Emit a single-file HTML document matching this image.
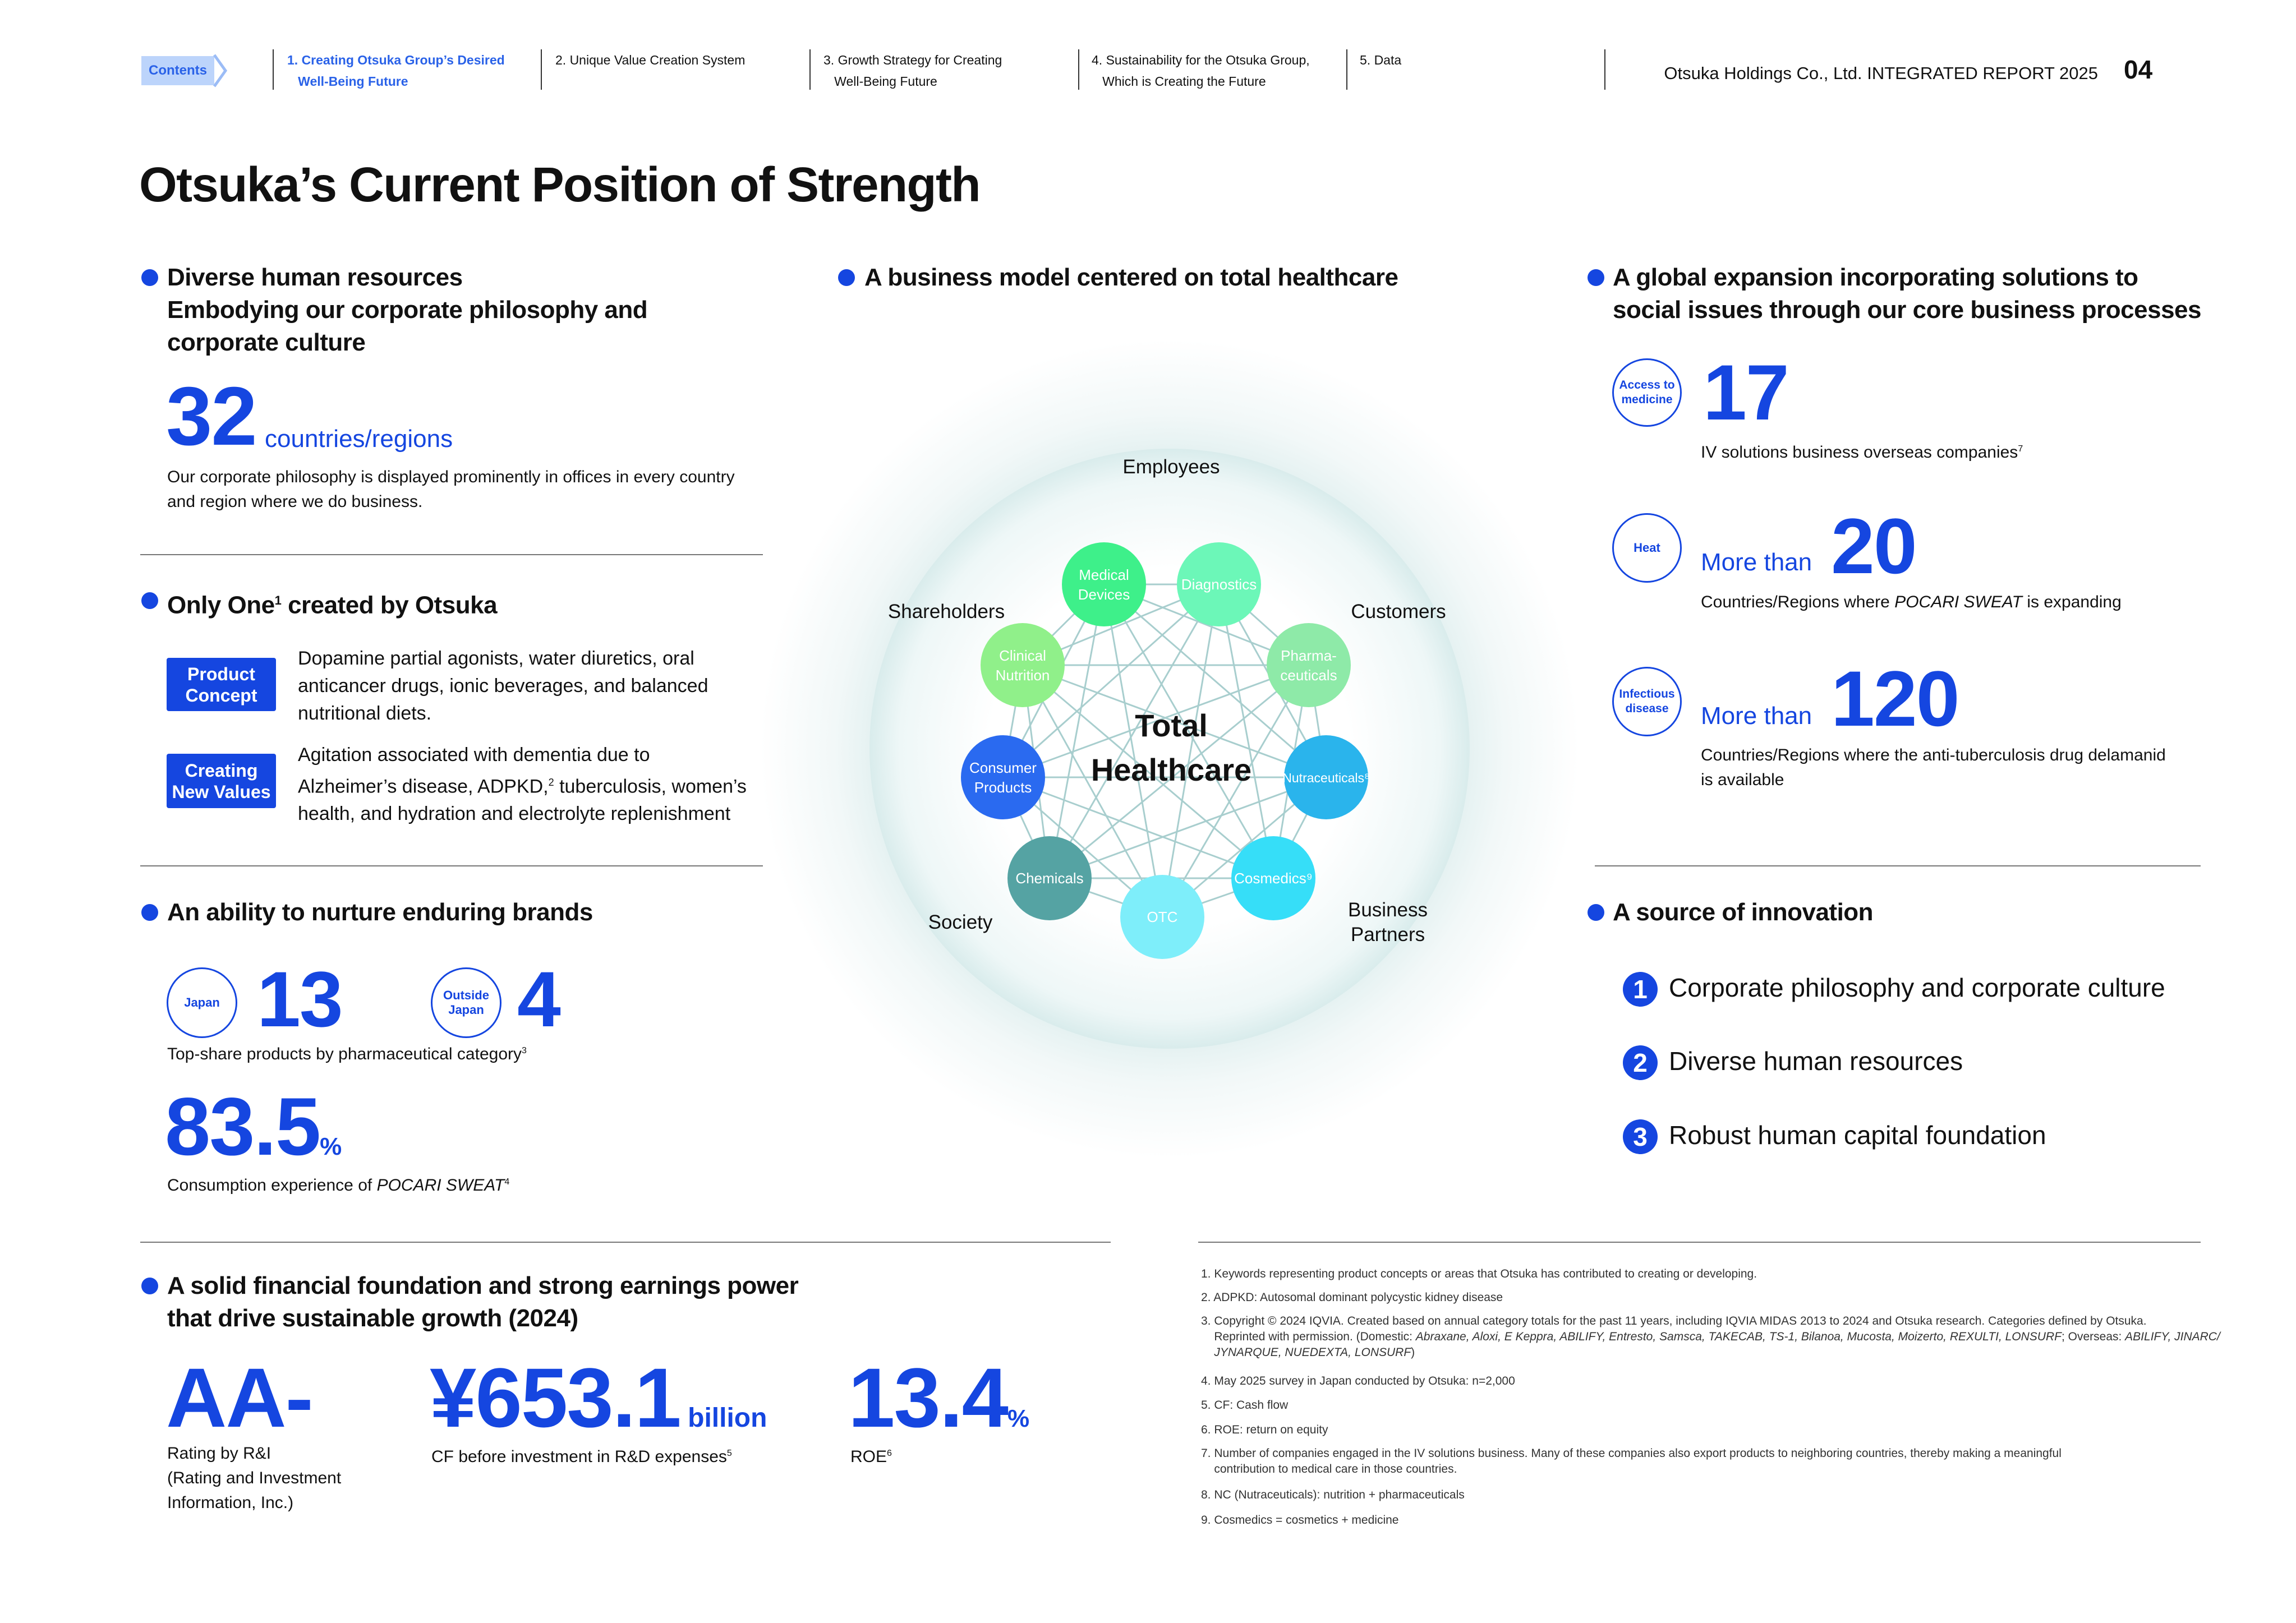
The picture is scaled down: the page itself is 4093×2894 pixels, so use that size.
<!DOCTYPE html>
<html><head><meta charset="utf-8"><style>
body{margin:0;background:#fff}
#p{position:relative;width:4093px;height:2894px;overflow:hidden;font-family:"Liberation Sans",sans-serif;color:#111}
.a{position:absolute;white-space:nowrap}
.h{font-weight:bold;font-size:44px;letter-spacing:-0.5px;line-height:58px}
.b{font-size:30px;line-height:44px}
.bl{color:#1546e0}
.big{font-weight:bold;color:#1546e0;letter-spacing:-2px}
.dot{position:absolute;width:30px;height:30px;border-radius:50%;background:#1546e0}
.rule{position:absolute;height:2px;background:#777}
.nav{position:absolute;font-size:23px;line-height:38px;top:88px}
.sep{position:absolute;top:88px;width:2px;height:72px;background:#333}
.circ{position:absolute;border:3px solid #1546e0;border-radius:50%;color:#1546e0;font-weight:bold;font-size:22px;display:flex;align-items:center;justify-content:center;text-align:center;line-height:26px;box-sizing:border-box}
.box{position:absolute;background:#1546e0;color:#fff;font-weight:bold;font-size:32px;line-height:38px;text-align:center;display:flex;align-items:center;justify-content:center;border-radius:4px}
.num{position:absolute;width:62px;height:62px;border-radius:50%;background:#1546e0;color:#fff;font-weight:bold;font-size:46px;text-align:center;line-height:62px}
.fn{position:absolute;font-size:21px;line-height:28px;color:#333;white-space:nowrap}
</style></head><body><div id="p">

<div class="a" style="left:252px;top:100px;width:130px;height:52px;background:#bcd4fb;color:#2a62e8;font-weight:bold;font-size:24px;line-height:52px;text-align:center">Contents</div>
<svg class="a" style="left:378px;top:96px" width="30" height="60"><polyline points="4,2 24,30 4,58" fill="none" stroke="#9bbcf6" stroke-width="5"/></svg>
<div class="sep" style="left:486px"></div><div class="nav" style="left:512px;color:#2a62e8;font-weight:bold">1. Creating Otsuka Group’s Desired<br>&nbsp;&nbsp;&nbsp;Well-Being Future</div>
<div class="sep" style="left:964px"></div><div class="nav" style="left:990px">2. Unique Value Creation System</div>
<div class="sep" style="left:1443px"></div><div class="nav" style="left:1468px">3. Growth Strategy for Creating<br>&nbsp;&nbsp;&nbsp;Well-Being Future</div>
<div class="sep" style="left:1922px"></div><div class="nav" style="left:1946px">4. Sustainability for the Otsuka Group,<br>&nbsp;&nbsp;&nbsp;Which is Creating the Future</div>
<div class="sep" style="left:2400px"></div><div class="nav" style="left:2424px">5. Data</div>
<div class="sep" style="left:2860px"></div>
<div class="a" style="right:353px;top:110px;font-size:31px;line-height:42px">Otsuka Holdings Co., Ltd. INTEGRATED REPORT 2025</div>
<div class="a" style="left:3786px;top:96px;font-size:46px;font-weight:bold;line-height:56px">04</div>

<div class="a" style="left:248px;top:280px;font-size:87px;font-weight:bold;letter-spacing:-1.6px;line-height:100px">Otsuka’s Current Position of Strength</div>

<!-- left column -->
<div class="dot" style="left:252px;top:480px"></div>
<div class="a h" style="left:298px;top:466px">Diverse human resources<br>Embodying our corporate philosophy and<br>corporate culture</div>
<div class="a big" style="left:296px;top:668px;font-size:148px;line-height:150px">32</div>
<div class="a bl" style="left:472px;top:758px;font-size:44px;line-height:50px">countries/regions</div>
<div class="a b" style="left:298px;top:829px">Our corporate philosophy is displayed prominently in offices in every country<br>and region where we do business.</div>
<div class="rule" style="left:250px;top:988px;width:1110px"></div>

<div class="dot" style="left:252px;top:1056px"></div>
<div class="a h" style="left:298px;top:1042px">Only One<sup style="font-size:22px">1</sup> created by Otsuka</div>
<div class="box" style="left:297px;top:1173px;width:195px;height:95px">Product<br>Concept</div>
<div class="a" style="left:531px;top:1150px;font-size:34px;line-height:49px">Dopamine partial agonists, water diuretics, oral<br>anticancer drugs, ionic beverages, and balanced<br>nutritional diets.</div>
<div class="box" style="left:297px;top:1344px;width:195px;height:97px">Creating<br>New Values</div>
<div class="a" style="left:531px;top:1322px;font-size:34px;line-height:49px">Agitation associated with dementia due to<br>Alzheimer’s disease, ADPKD,<sup style="font-size:18px">2</sup> tuberculosis, women’s<br>health, and hydration and electrolyte replenishment</div>
<div class="rule" style="left:250px;top:1543px;width:1110px"></div>

<div class="dot" style="left:252px;top:1612px"></div>
<div class="a h" style="left:298px;top:1598px">An ability to nurture enduring brands</div>
<div class="circ" style="left:297px;top:1725px;width:126px;height:126px">Japan</div>
<div class="a big" style="left:458px;top:1710px;font-size:140px;line-height:144px">13</div>
<div class="circ" style="left:768px;top:1725px;width:126px;height:126px">Outside<br>Japan</div>
<div class="a big" style="left:922px;top:1710px;font-size:140px;line-height:144px">4</div>
<div class="a b" style="left:298px;top:1852px">Top-share products by pharmaceutical category<sup style="font-size:16px">3</sup></div>
<div class="a big" style="left:294px;top:1934px;font-size:146px;line-height:150px">83.5<span style="font-size:44px;letter-spacing:0">%</span></div>
<div class="a b" style="left:298px;top:2086px">Consumption experience of <i>POCARI SWEAT</i><sup style="font-size:16px">4</sup></div>
<div class="rule" style="left:250px;top:2214px;width:1730px"></div>

<div class="dot" style="left:252px;top:2278px"></div>
<div class="a h" style="left:298px;top:2264px">A solid financial foundation and strong earnings power<br>that drive sustainable growth (2024)</div>
<div class="a big" style="left:296px;top:2412px;font-size:150px;line-height:160px">AA-</div>
<div class="a big" style="left:766px;top:2412px;font-size:150px;line-height:160px">¥653.1<span style="font-size:48px;letter-spacing:0"> billion</span></div>
<div class="a big" style="left:1512px;top:2412px;font-size:150px;line-height:160px">13.4<span style="font-size:44px;letter-spacing:0">%</span></div>
<div class="a b" style="left:298px;top:2570px">Rating by R&amp;I<br>(Rating and Investment<br>Information, Inc.)</div>
<div class="a b" style="left:769px;top:2570px">CF before investment in R&amp;D expenses<sup style="font-size:16px">5</sup></div>
<div class="a b" style="left:1516px;top:2570px">ROE<sup style="font-size:16px">6</sup></div>

<!-- middle -->
<div class="dot" style="left:1494px;top:480px"></div>
<div class="a h" style="left:1541px;top:466px">A business model centered on total healthcare</div>
<svg class="a" style="left:-10px;top:0" width="4093" height="2894">
<defs>
<radialGradient id="og" cx="2095" cy="1335" r="730" gradientUnits="userSpaceOnUse">
<stop offset="0.72" stop-color="#e4f1f1"/><stop offset="0.82" stop-color="#f2f8f8"/><stop offset="1" stop-color="#fff"/></radialGradient>
<radialGradient id="ig" cx="2095" cy="1335" r="535" gradientUnits="userSpaceOnUse">
<stop offset="0.6" stop-color="#fff"/><stop offset="0.9" stop-color="#eef7f7"/><stop offset="1" stop-color="#d9ecec"/></radialGradient>
</defs>
<circle cx="2095" cy="1335" r="730" fill="url(#og)"/>
<circle cx="2095" cy="1335" r="535" fill="url(#ig)"/>
<g id="lines" stroke="#a8cece" stroke-width="3"></g>
<g font-family="Liberation Sans" font-size="26" fill="#fff" text-anchor="middle">
<circle cx="1978" cy="1042" r="75" fill="#3ef08a"/><text x="1978" y="1034">Medical</text><text x="1978" y="1069">Devices</text>
<circle cx="2183" cy="1042" r="75" fill="#6cf7b8"/><text x="2183" y="1051">Diagnostics</text>
<circle cx="2343" cy="1186" r="75" fill="#8eeaa8"/><text x="2343" y="1178">Pharma-</text><text x="2343" y="1213">ceuticals</text>
<circle cx="2374" cy="1386" r="75" fill="#2ab4ec"/><text x="2374" y="1395" font-size="23">Nutraceuticals⁸</text>
<circle cx="2280" cy="1566" r="75" fill="#36def8"/><text x="2280" y="1575">Cosmedics⁹</text>
<circle cx="2082" cy="1635" r="75" fill="#7eeefa"/><text x="2082" y="1644">OTC</text>
<circle cx="1881" cy="1566" r="75" fill="#55a3a3"/><text x="1881" y="1575">Chemicals</text>
<circle cx="1798" cy="1386" r="75" fill="#2a6af0"/><text x="1798" y="1378">Consumer</text><text x="1798" y="1413">Products</text>
<circle cx="1833" cy="1186" r="75" fill="#90f08a"/><text x="1833" y="1178">Clinical</text><text x="1833" y="1213">Nutrition</text>
</g>
<g font-family="Liberation Sans" font-size="35" fill="#111" text-anchor="middle">
<text x="2098" y="844">Employees</text><text x="1697" y="1102">Shareholders</text><text x="2503" y="1102">Customers</text>
<text x="1722" y="1656">Society</text><text x="2484" y="1634">Business</text><text x="2484" y="1678">Partners</text>
<text x="2098" y="1313" font-size="56" font-weight="bold">Total</text><text x="2098" y="1392" font-size="56" font-weight="bold">Healthcare</text>
</g>
</svg>

<!-- right -->
<div class="dot" style="left:2830px;top:480px"></div>
<div class="a h" style="left:2875px;top:466px">A global expansion incorporating solutions to<br>social issues through our core business processes</div>
<div class="circ" style="left:2874px;top:639px;width:124px;height:122px;font-size:21px">Access to<br>medicine</div>
<div class="a big" style="left:3036px;top:628px;font-size:140px;line-height:144px">17</div>
<div class="a b" style="left:3032px;top:779px">IV solutions business overseas companies<sup style="font-size:16px">7</sup></div>
<div class="circ" style="left:2874px;top:915px;width:124px;height:124px">Heat</div>
<div class="a bl" style="left:3032px;top:978px;font-size:44px;line-height:50px">More than</div>
<div class="a big" style="left:3264px;top:902px;font-size:140px;line-height:144px">20</div>
<div class="a b" style="left:3032px;top:1052px">Countries/Regions where <i>POCARI SWEAT</i> is expanding</div>
<div class="circ" style="left:2874px;top:1189px;width:124px;height:124px;font-size:21px">Infectious<br>disease</div>
<div class="a bl" style="left:3032px;top:1252px;font-size:44px;line-height:50px">More than</div>
<div class="a big" style="left:3264px;top:1174px;font-size:140px;line-height:144px">120</div>
<div class="a b" style="left:3032px;top:1325px">Countries/Regions where the anti-tuberculosis drug delamanid<br>is available</div>
<div class="rule" style="left:2843px;top:1543px;width:1080px"></div>

<div class="dot" style="left:2830px;top:1612px"></div>
<div class="a h" style="left:2875px;top:1598px">A source of innovation</div>
<div class="num" style="left:2893px;top:1733px">1</div><div class="a" style="left:2975px;top:1733px;font-size:46px;line-height:56px">Corporate philosophy and corporate culture</div>
<div class="num" style="left:2893px;top:1864px">2</div><div class="a" style="left:2975px;top:1864px;font-size:46px;line-height:56px">Diverse human resources</div>
<div class="num" style="left:2893px;top:1996px">3</div><div class="a" style="left:2975px;top:1996px;font-size:46px;line-height:56px">Robust human capital foundation</div>
<div class="rule" style="left:2136px;top:2214px;width:1787px"></div>

<div class="fn" style="left:2141px;top:2258px">1. Keywords representing product concepts or areas that Otsuka has contributed to creating or developing.</div>
<div class="fn" style="left:2141px;top:2300px">2. ADPKD: Autosomal dominant polycystic kidney disease</div>
<div class="fn" style="left:2141px;top:2342px">3. Copyright © 2024 IQVIA. Created based on annual category totals for the past 11 years, including IQVIA MIDAS 2013 to 2024 and Otsuka research. Categories defined by Otsuka.<br>&nbsp;&nbsp;&nbsp;&nbsp;Reprinted with permission. (Domestic: <i>Abraxane, Aloxi, E Keppra, ABILIFY, Entresto, Samsca, TAKECAB, TS-1, Bilanoa, Mucosta, Moizerto, REXULTI, LONSURF</i>; Overseas: <i>ABILIFY, JINARC/</i><br>&nbsp;&nbsp;&nbsp;&nbsp;<i>JYNARQUE, NUEDEXTA, LONSURF</i>)</div>
<div class="fn" style="left:2141px;top:2449px">4. May 2025 survey in Japan conducted by Otsuka: n=2,000</div>
<div class="fn" style="left:2141px;top:2492px">5. CF: Cash flow</div>
<div class="fn" style="left:2141px;top:2536px">6. ROE: return on equity</div>
<div class="fn" style="left:2141px;top:2578px">7. Number of companies engaged in the IV solutions business. Many of these companies also export products to neighboring countries, thereby making a meaningful<br>&nbsp;&nbsp;&nbsp;&nbsp;contribution to medical care in those countries.</div>
<div class="fn" style="left:2141px;top:2652px">8. NC (Nutraceuticals): nutrition + pharmaceuticals</div>
<div class="fn" style="left:2141px;top:2697px">9. Cosmedics = cosmetics + medicine</div>

<script>
var n=[[1978,1042],[2183,1042],[2343,1186],[2374,1386],[2280,1566],[2082,1635],[1881,1566],[1798,1386],[1833,1186]];
var g=document.getElementById('lines'),s='';
for(var i=0;i<n.length;i++)for(var j=i+1;j<n.length;j++)s+='<line x1="'+n[i][0]+'" y1="'+n[i][1]+'" x2="'+n[j][0]+'" y2="'+n[j][1]+'"/>';
g.innerHTML=s;
</script>
</div></body></html>
